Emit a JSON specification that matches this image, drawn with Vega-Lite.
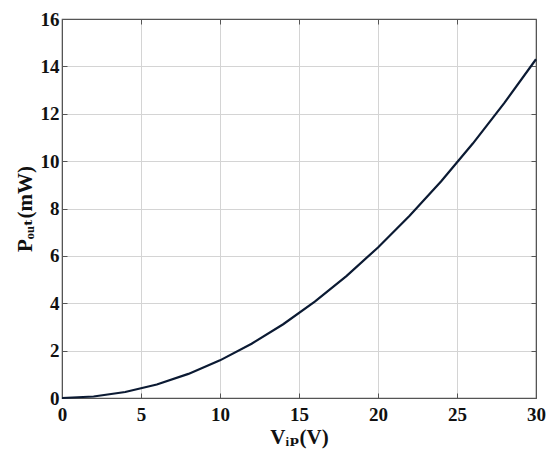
{
  "$schema": "https://vega.github.io/schema/vega-lite/v6.json",
  "width": 474,
  "height": 379,
  "autosize": {"type": "none"},
  "padding": {"left": 62, "top": 19, "right": 14, "bottom": 66},
  "background": "white",
  "config": {
    "view": {"stroke": "#555555", "strokeWidth": 1.2},
    "axis": {
      "labelFont": "Liberation Serif, DejaVu Serif",
      "titleFont": "Liberation Serif, DejaVu Serif",
      "labelFontSize": 19,
      "labelFontWeight": "bold",
      "labelColor": "#111111",
      "titleFontSize": 21,
      "titleFontWeight": "bold",
      "titleColor": "#111111",
      "domainColor": "#555555",
      "tickColor": "#555555",
      "tickSize": -5,
      "gridColor": "#d4d4d4",
      "gridWidth": 1
    }
  },
  "data": {"values": [
    {"V": 0, "P": 0},
    {"V": 2, "P": 0.064},
    {"V": 4, "P": 0.254},
    {"V": 6, "P": 0.572},
    {"V": 8, "P": 1.017},
    {"V": 10, "P": 1.589},
    {"V": 12, "P": 2.288},
    {"V": 14, "P": 3.114},
    {"V": 16, "P": 4.068},
    {"V": 18, "P": 5.148},
    {"V": 20, "P": 6.356},
    {"V": 22, "P": 7.69},
    {"V": 24, "P": 9.152},
    {"V": 26, "P": 10.741},
    {"V": 28, "P": 12.457},
    {"V": 30, "P": 14.3}
  ]},
  "layer": [
    {
      "mark": {"type": "line", "color": "#0b1a33", "strokeWidth": 2.2},
      "encoding": {
        "x": {"field": "V", "type": "quantitative", "scale": {"domain": [0, 30], "nice": false},
          "axis": {"values": [0, 5, 10, 15, 20, 25, 30], "title": "Vᵢₚ(V)", "labelPadding": 12, "titlePadding": 2, "labelFlush": false}},
        "y": {"field": "P", "type": "quantitative", "scale": {"domain": [0, 16], "nice": false},
          "axis": {"values": [0, 2, 4, 6, 8, 10, 12, 14, 16], "title": "Pₒᵤₜ(mW)", "labelPadding": 8, "titlePadding": 5, "labelFlush": false}}
      }
    },
    {
      "mark": {"type": "line", "opacity": 0},
      "encoding": {
        "x": {"field": "V", "type": "quantitative", "scale": {"domain": [0, 30], "nice": false},
          "axis": {"orient": "top", "values": [0, 5, 10, 15, 20, 25, 30], "labels": false, "title": null, "grid": false}},
        "y": {"field": "P", "type": "quantitative", "scale": {"domain": [0, 16], "nice": false},
          "axis": {"orient": "right", "values": [0, 2, 4, 6, 8, 10, 12, 14, 16], "labels": false, "title": null, "grid": false}}
      }
    }
  ],
  "resolve": {"axis": {"x": "independent", "y": "independent"}}
}
